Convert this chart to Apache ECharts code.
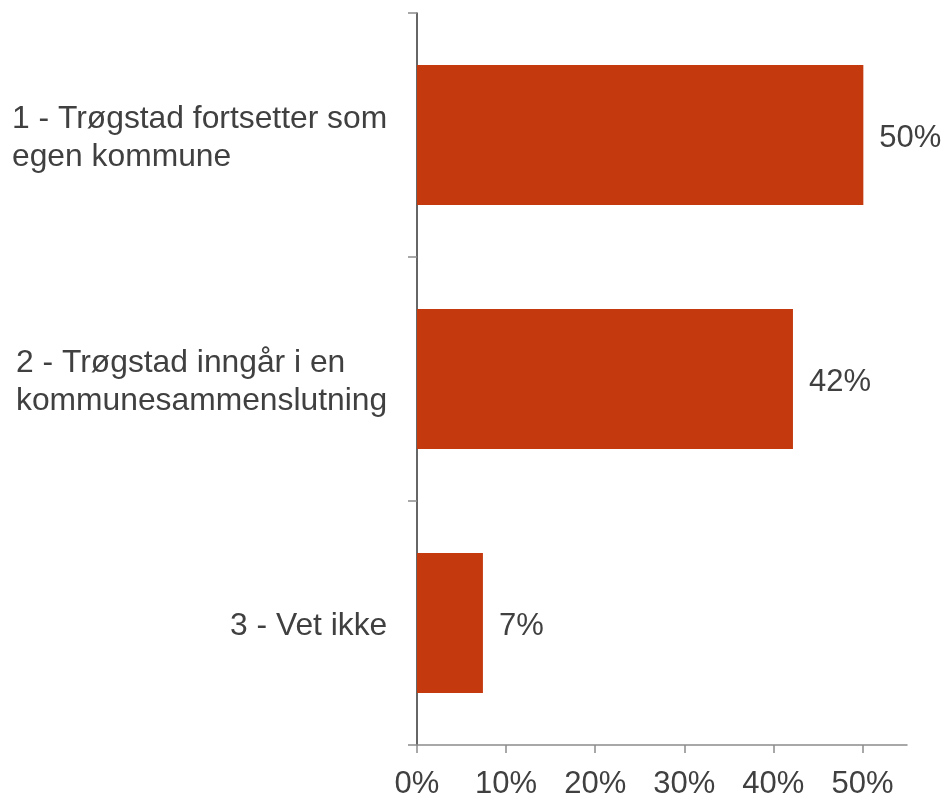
<!DOCTYPE html>
<html>
<head>
<meta charset="utf-8">
<style>
  html, body { margin: 0; padding: 0; background: #ffffff; }
  #chart { width: 948px; height: 796px; }
</style>
<script src="https://cdn.jsdelivr.net/npm/echarts@6/dist/echarts.min.js"></script>
</head>
<body>
<div id="chart"></div>
<script>
// svarkategorier
const categories = [
  '1 - Trøgstad fortsetter som\negen kommune',
  '2 - Trøgstad inngår i en\nkommunesammenslutning',
  '3 - Vet ikke'
];
// andel i prosent
const values = [50.1, 42.2, 7.4];
const tickValues = [0, 10, 20, 30, 40, 50];

const FONT = '"Liberation Sans", Arial, sans-serif';
const FS = 31;
const CAT_FS = 31.8;
const textColor = '#404040';

/* linjene i hver etikett er venstrejustert, blokken høyrejustert mot aksen */
const ctx = document.createElement('canvas').getContext('2d');
ctx.font = CAT_FS + 'px ' + FONT;
const rich = {};
categories.forEach((c, i) => {
  const w = Math.max(...c.split('\n').map(l => ctx.measureText(l).width));
  rich['c' + i] = { width: Math.ceil(w), align: 'left', fontSize: CAT_FS, fontFamily: FONT, color: textColor, lineHeight: 38 };
});

const chart = echarts.init(document.getElementById('chart'));
chart.setOption({
  animation: false,
  grid: { left: 417, right: 41, top: 13, bottom: 51, containLabel: false, outerBoundsMode: 'none' },
  xAxis: {
    type: 'value',
    min: 0,
    max: 55,
    splitLine: { show: false },
    axisLine: { show: true, lineStyle: { color: '#8c8c8c', width: 1.5 } },
    axisTick: { show: true, length: 8, customValues: tickValues, lineStyle: { color: '#8c8c8c', width: 1.5 } },
    axisLabel: {
      customValues: tickValues,
      formatter: v => v + '%',
      fontSize: FS,
      fontFamily: FONT,
      color: textColor,
      margin: 24
    }
  },
  yAxis: {
    type: 'category',
    inverse: true,
    data: categories,
    axisLine: { show: true, lineStyle: { color: '#333333', width: 1.5 } },
    axisTick: { show: true, length: 9, lineStyle: { color: '#8c8c8c', width: 1.5 } },
    axisLabel: {
      margin: 29,
      align: 'right',
      padding: [6, 0, 0, 0],
      formatter: (v, i) => v.split('\n').map(l => '{c' + i + '|' + l + '}').join('\n'),
      rich: rich
    }
  },
  series: [
    {
      type: 'bar',
      data: values,
      barWidth: 140,
      itemStyle: { color: '#c4390e' },
      label: {
        show: true,
        position: 'right',
        distance: 16,
        offset: [0, 3],
        formatter: p => Math.round(p.value) + '%',
        fontSize: FS,
        fontFamily: FONT,
        color: textColor
      }
    }
  ]
});
</script>
</body>
</html>
